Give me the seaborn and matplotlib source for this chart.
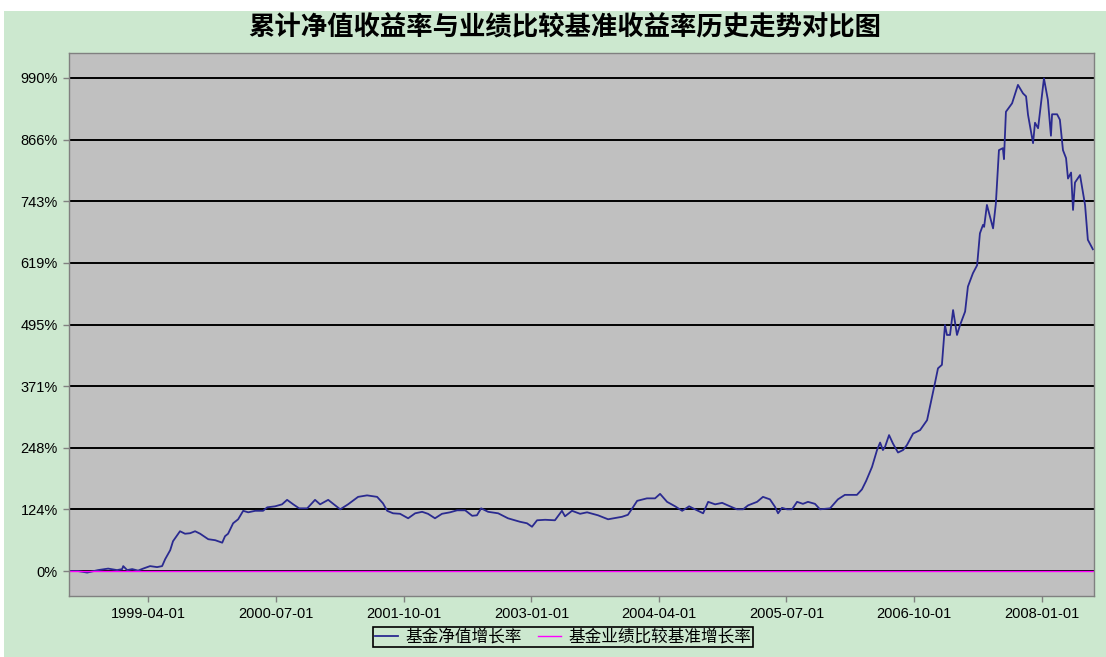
import matplotlib
matplotlib.use("Agg")
import matplotlib.pyplot as plt
from matplotlib.patches import Rectangle
from matplotlib.font_manager import FontProperties
import seaborn as sns
import pandas as pd

# -------------------------------
# data
# -------------------------------
title = "累计净值收益率与业绩比较基准收益率历史走势对比图"
fund_label = "基金净值增长率"
bench_label = "基金业绩比较基准增长率"

fund_dates = [
    "1998-06-22", "1998-07-25", "1998-08-26", "1998-10-04", "1998-11-09", "1998-12-11",
    "1998-12-29", "1999-01-02", "1999-01-16", "1999-02-03", "1999-02-24", "1999-03-14",
    "1999-04-08", "1999-05-03", "1999-05-21", "1999-06-01", "1999-06-19", "1999-06-29",
    "1999-07-24", "1999-08-11", "1999-08-29", "1999-09-16", "1999-10-04", "1999-11-02",
    "1999-11-27", "1999-12-22", "2000-01-01", "2000-01-12", "2000-01-30", "2000-02-17",
    "2000-03-06", "2000-03-24", "2000-04-18", "2000-05-16", "2000-05-31", "2000-06-28",
    "2000-07-23", "2000-08-10", "2000-09-01", "2000-09-22", "2000-10-21", "2000-11-18",
    "2000-12-06", "2001-01-04", "2001-02-16", "2001-03-16", "2001-04-21", "2001-05-23",
    "2001-06-28", "2001-07-19", "2001-08-03", "2001-08-24", "2001-09-18", "2001-10-17",
    "2001-11-11", "2001-12-06", "2001-12-27", "2002-01-21", "2002-02-15", "2002-03-16",
    "2002-04-10", "2002-05-09", "2002-06-03", "2002-06-20", "2002-07-05", "2002-07-30",
    "2002-09-04", "2002-10-09", "2002-11-21", "2002-12-16", "2003-01-03", "2003-01-21",
    "2003-02-19", "2003-03-26", "2003-04-20", "2003-05-01", "2003-05-26", "2003-06-24",
    "2003-07-19", "2003-08-27", "2003-10-02", "2003-11-21", "2003-12-12", "2003-12-30",
    "2004-01-14", "2004-02-18", "2004-03-18", "2004-04-05", "2004-04-30", "2004-05-29",
    "2004-06-23", "2004-07-18", "2004-08-08", "2004-09-06", "2004-09-24", "2004-10-19",
    "2004-11-13", "2004-12-11", "2005-01-05", "2005-01-27", "2005-02-14", "2005-03-18",
    "2005-04-08", "2005-05-03", "2005-05-21", "2005-06-01", "2005-06-15", "2005-07-03",
    "2005-07-21", "2005-08-08", "2005-08-29", "2005-09-16", "2005-10-11", "2005-10-29",
    "2005-12-04", "2006-01-01", "2006-01-26", "2006-03-10", "2006-03-28", "2006-04-12",
    "2006-05-03", "2006-05-21", "2006-06-01", "2006-06-11", "2006-06-19", "2006-07-03",
    "2006-07-17", "2006-08-04", "2006-08-22", "2006-09-05", "2006-09-27", "2006-10-22",
    "2006-11-16", "2006-12-04", "2006-12-14", "2006-12-25", "2007-01-08", "2007-01-19",
    "2007-01-26", "2007-02-06", "2007-02-17", "2007-03-03", "2007-03-14", "2007-04-01",
    "2007-04-11", "2007-04-29", "2007-05-14", "2007-05-24", "2007-06-04", "2007-06-08",
    "2007-06-18", "2007-07-10", "2007-07-20", "2007-07-31", "2007-08-14", "2007-08-18",
    "2007-08-25", "2007-09-16", "2007-10-07", "2007-10-25", "2007-11-05", "2007-11-12",
    "2007-11-30", "2007-12-07", "2007-12-18", "2008-01-08", "2008-01-22", "2008-02-02",
    "2008-02-06", "2008-02-24", "2008-03-05", "2008-03-16", "2008-03-27", "2008-04-03",
    "2008-04-14", "2008-04-21", "2008-04-28", "2008-05-16", "2008-06-03", "2008-06-13",
    "2008-07-01",
]
fund_values = [
    0, 0, -3, 2, 5, 2,
    4, 10, 2, 4, 1, 5,
    10, 8, 10, 24, 42, 60,
    80, 75, 76, 80, 75, 64,
    62, 57, 70, 75, 96, 104,
    121, 118, 121, 121, 128, 130,
    134, 143, 134, 126, 126, 143,
    134, 143, 124, 134, 149, 152,
    149, 136, 121, 116, 115, 106,
    116, 119, 115, 106, 115, 118,
    122, 122, 111, 112, 126, 119,
    116, 106, 99, 96, 89, 102,
    103, 102, 121, 110, 121, 115,
    118, 112, 104, 109, 113, 128,
    141, 146, 146, 155, 139, 130,
    121, 130, 124, 116, 139, 134,
    137, 130, 124, 124, 132, 139,
    149, 144, 129, 116, 127, 124,
    124, 139, 135, 139, 135, 124,
    126, 144, 153, 153, 164, 181,
    209, 243, 258, 243, 250, 273,
    256, 238, 243, 253, 276, 283,
    303, 350, 377, 407, 414, 494,
    474, 474, 524, 474, 494, 521,
    571, 598, 614, 678, 695, 691,
    735, 688, 738, 845, 849, 827,
    922, 939, 976, 959, 953, 916,
    859, 900, 889, 989, 946, 874,
    917, 917, 906, 845, 829, 788,
    800, 725, 780, 795, 735, 665,
    646,
]

bench_dates = ["1998-06-22", "2008-07-01"]
bench_values = [0, 0]

y_ticks = [0, 123.75, 247.5, 371.25, 495, 618.75, 742.5, 866.25, 990]
y_tick_labels = ["0%", "124%", "248%", "371%", "495%", "619%", "743%", "866%", "990%"]
x_ticks = ["1999-04-01", "2000-07-01", "2001-10-01", "2003-01-01",
           "2004-04-01", "2005-07-01", "2006-10-01", "2008-01-01"]

# -------------------------------
# figure
# -------------------------------
W, H = 1106, 657
fig = plt.figure(figsize=(W / 100, H / 100), dpi=100, facecolor="white")
fig.add_artist(Rectangle((4 / W, 0), 1 - 4 / W, (H - 11) / H, transform=fig.transFigure,
                         facecolor="#CCE8CF", edgecolor="none", zorder=0))

ax = fig.add_axes([69 / W, (H - 596) / H, (1094 - 69) / W, (596 - 53) / H])
ax.set_facecolor("#C0C0C0")

fund = pd.DataFrame({"date": pd.to_datetime(fund_dates), "value": fund_values})
bench = pd.DataFrame({"date": pd.to_datetime(bench_dates), "value": bench_values})

sns.lineplot(data=fund, x="date", y="value", ax=ax, color="#2A2A90", linewidth=1.3,
             label=fund_label)
sns.lineplot(data=bench, x="date", y="value", ax=ax, color="#FF00FF", linewidth=1.0,
             label=bench_label)

ax.set_xlim(pd.Timestamp("1998-06-22"), pd.Timestamp("2008-07-05"))
ax.set_ylim(-50, 1040)

ax.set_yticks(y_ticks)
ax.set_yticklabels(y_tick_labels)
ax.set_xticks(pd.to_datetime(x_ticks))
ax.set_xticklabels(x_ticks)
ax.set_xlabel("")
ax.set_ylabel("")

tick_font = FontProperties(family=["Liberation Sans", "DejaVu Sans"], size=10.5)
for lbl in ax.get_xticklabels() + ax.get_yticklabels():
    lbl.set_fontproperties(tick_font)
ax.tick_params(axis="both", direction="out", length=4, width=1, color="#808080",
               labelcolor="black", pad=4)

ax.yaxis.grid(True, color="black", linewidth=1.4)
ax.xaxis.grid(False)
ax.set_axisbelow(True)
for side in ["top", "right", "bottom", "left"]:
    ax.spines[side].set_color("#808080")
    ax.spines[side].set_linewidth(1.0)

fig.text(565 / W, 1 - 28 / H, title, ha="center", va="center", fontsize=19,
         fontweight="bold", family=["Noto Sans CJK SC", "DejaVu Sans"])

handles, labels = ax.get_legend_handles_labels()
ax.get_legend().remove()
leg = fig.legend(handles, labels, loc="upper center", bbox_to_anchor=(563 / W, 1 - 627 / H),
                 ncol=2, frameon=True, fancybox=False, edgecolor="black",
                 facecolor="#CCE8CF", framealpha=1,
                 prop=FontProperties(family=["Noto Sans CJK SC", "DejaVu Sans"], size=12),
                 handlelength=1.4, columnspacing=1.0, borderpad=0.1, handletextpad=0.4,
                 borderaxespad=0)
leg.get_frame().set_linewidth(1.2)

fig.savefig("out.png", dpi=100, facecolor=fig.get_facecolor())
